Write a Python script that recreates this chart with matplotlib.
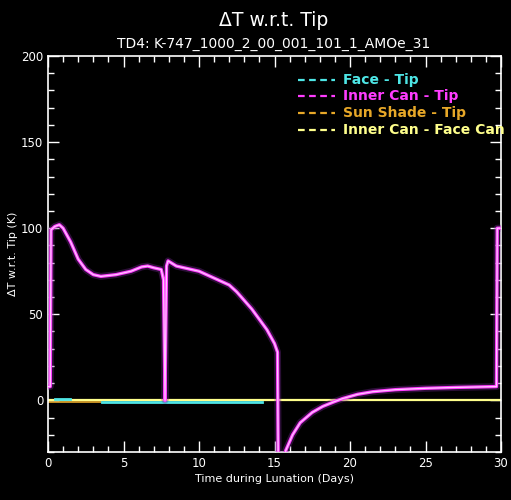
import numpy as np
import matplotlib
matplotlib.use("Agg")
import matplotlib.pyplot as plt
from matplotlib.ticker import MultipleLocator

# Temperature differences relative to the tip over one lunation
inner_can_days = [0.0, 0.15, 0.2, 0.45, 0.75, 1.0, 1.5, 2.0, 2.5, 3.0, 3.5, 4.5, 5.5,
                  6.2, 6.6, 7.0, 7.5, 7.65, 7.75, 7.8, 7.85, 7.95, 8.5, 9.5, 10.0,
                  11.0, 12.0, 12.5, 13.0, 13.5, 14.0, 14.5, 15.0, 15.2, 15.25,
                  15.6, 15.75, 16.2, 16.7, 17.5, 18.2, 18.9, 19.5, 20.5, 21.5,
                  23.0, 25.0, 27.0, 29.7, 29.75, 30.0]
inner_can_tip = [8, 8, 99, 101, 102, 100, 92, 82, 76, 73, 72, 73, 75,
                 77.5, 78, 77, 76, 70, 0, 40, 78, 81, 78, 76, 75,
                 71, 67, 63, 58, 53, 47, 41, 33, 28, -40,
                 -40, -29, -20, -13, -7, -3.5, -1, 1, 3.5, 5,
                 6.2, 7, 7.5, 8, 100, 100]

face_days_a = [0.45, 1.45]
face_tip_a = [0.8, 0.8]
face_days_b = [3.55, 14.15]
face_tip_b = [-1.0, -1.0]

sun_days = [0.0, 3.5]
sun_shade_tip = [-1.0, -1.0]

can_face_days = [0.0, 30.0]
can_face = [0.0, 0.0]

legend_labels = ["Face - Tip", "Inner Can - Tip", "Sun Shade - Tip", "Inner Can - Face Can"]

CYAN = "#4ee6e6"
MAGENTA = "#ff3cff"
ORANGE = "#e8a828"
YELLOW = "#ffff8c"
legend_colors = [CYAN, MAGENTA, ORANGE, YELLOW]

fig = plt.figure(figsize=(5.11, 5.0), dpi=100, facecolor="black")
ax = fig.add_axes([48 / 511, 1 - 452 / 500, (501 - 48) / 511, (452 - 56) / 500])
ax.set_facecolor("black")

ax.plot(can_face_days, can_face, color=YELLOW, lw=1.6, zorder=2)
ax.plot(sun_days, sun_shade_tip, color=ORANGE, lw=1.2, zorder=1)
ax.plot(face_days_a, face_tip_a, color=CYAN, lw=2.0, zorder=3)
ax.plot(face_days_b, face_tip_b, color=CYAN, lw=2.0, zorder=3)
# glowing magenta trace with a pale core
ax.plot(inner_can_days, inner_can_tip, color="#7a2a9a", lw=5, alpha=0.35, zorder=3)
ax.plot(inner_can_days, inner_can_tip, color=MAGENTA, lw=2.4, zorder=4)
ax.plot(inner_can_days, inner_can_tip, color="#ffc8ff", lw=0.9, zorder=5)

ax.set_xlim(0, 30)
ax.set_ylim(-30, 200)
ax.xaxis.set_major_locator(MultipleLocator(5))
ax.xaxis.set_minor_locator(MultipleLocator(1))
ax.yaxis.set_major_locator(MultipleLocator(50))
ax.yaxis.set_minor_locator(MultipleLocator(10))
ax.tick_params(which="both", direction="in", colors="white", top=True, right=True,
               labelsize=8.5, labelcolor="white")
ax.tick_params(which="major", length=8, width=1)
ax.tick_params(which="minor", length=4, width=1)
for s in ax.spines.values():
    s.set_color("white")
    s.set_linewidth(1.2)

ax.set_xlabel("Time during Lunation (Days)", color="white", fontsize=8, labelpad=3)
ax.set_ylabel("ΔT w.r.t. Tip (K)", color="white", fontsize=8, labelpad=2)

fig.text(274 / 511, 1 - 20 / 500, "ΔT w.r.t. Tip", color="white", fontsize=13.5,
         ha="center", va="center")
fig.text(274 / 511, 1 - 44 / 500, "TD4: K-747_1000_2_00_001_101_1_AMOe_31",
         color="white", fontsize=10, ha="center", va="center")

# legend drawn as dashes plus coloured labels
rows_y = [80, 96, 113, 130]
for lab, col, py in zip(legend_labels, legend_colors, rows_y):
    yf = 1 - py / 500
    fig.add_artist(plt.Line2D([298 / 511, 335 / 511], [yf, yf], color=col, lw=1.6,
                              ls=(0, (3, 2))))
    fig.text(343 / 511, yf, lab, color=col, fontsize=10, fontweight="bold",
             ha="left", va="center")

fig.savefig("out.png", dpi=100, facecolor="black")
